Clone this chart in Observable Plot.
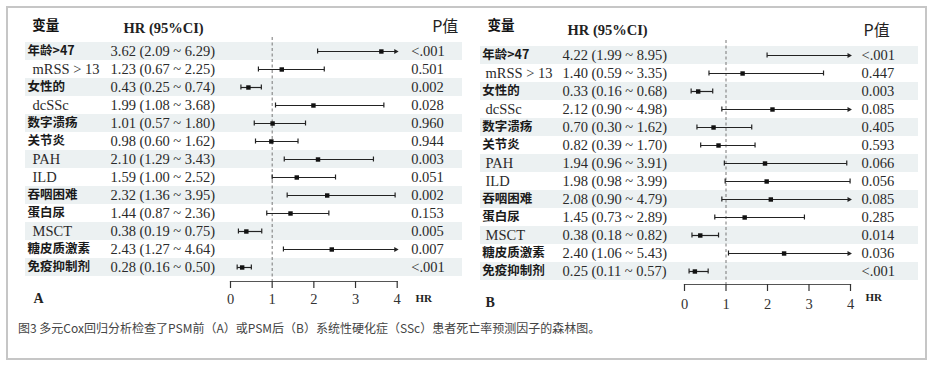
<!DOCTYPE html>
<html><head><meta charset="utf-8">
<script src="https://cdn.jsdelivr.net/npm/d3@7"></script>
<script src="https://cdn.jsdelivr.net/npm/@observablehq/plot@0.6"></script>
<style>
body{margin:0;background:#fff;}
#wrap{position:relative;width:934px;height:365px;overflow:hidden;background:#fff;}
#box{position:absolute;left:6px;top:6px;width:917px;height:350px;border:2px solid #c6c6c6;}
.panel{position:absolute;top:0;}
#caption{position:absolute;left:18px;top:320px;font-family:"Noto Sans CJK SC";font-size:12px;line-height:16px;color:#444;white-space:nowrap;}
</style></head><body>
<div id="wrap"><div id="box"></div><div id="pa" class="panel" style="left:0"></div><div id="pb" class="panel" style="left:467px"></div><div id="caption"></div></div>
<script>
// ---- data ----
const variables = ["年龄>47", "mRSS > 13", "女性的", "dcSSc", "数字溃疡", "关节炎", "PAH", "ILD", "吞咽困难", "蛋白尿", "MSCT", "糖皮质激素", "免疫抑制剂"];
const hrA = [3.62, 1.23, 0.43, 1.99, 1.01, 0.98, 2.10, 1.59, 2.32, 1.44, 0.38, 2.43, 0.28];
const loA = [2.09, 0.67, 0.25, 1.08, 0.57, 0.60, 1.29, 1.00, 1.36, 0.87, 0.19, 1.27, 0.16];
const hiA = [6.29, 2.25, 0.74, 3.68, 1.80, 1.62, 3.43, 2.52, 3.95, 2.36, 0.75, 4.64, 0.50];
const pA = ["<.001", "0.501", "0.002", "0.028", "0.960", "0.944", "0.003", "0.051", "0.002", "0.153", "0.005", "0.007", "<.001"];
const hrB = [4.22, 1.40, 0.33, 2.12, 0.70, 0.82, 1.94, 1.98, 2.08, 1.45, 0.38, 2.40, 0.25];
const loB = [1.99, 0.59, 0.16, 0.90, 0.30, 0.39, 0.96, 0.98, 0.90, 0.73, 0.18, 1.06, 0.11];
const hiB = [8.95, 3.35, 0.68, 4.98, 1.62, 1.70, 3.91, 3.99, 4.79, 2.89, 0.82, 5.43, 0.57];
const pB = ["<.001", "0.447", "0.003", "0.085", "0.405", "0.593", "0.066", "0.056", "0.085", "0.285", "0.014", "0.036", "<.001"];
const xTicks = [0, 1, 2, 3, 4];
const xMax = 4;
const headers = ["变量", "HR (95%CI)", "P值"];
const panelLetters = ["A", "B"];
const axisTitle = "HR";
const captionText = "图3 多元Cox回归分析检查了PSM前（A）或PSM后（B）系统性硬化症（SSc）患者死亡率预测因子的森林图。";

// ---- layout ----
const SERIF = "Liberation Serif, Times New Roman, serif";
const CJK = "Noto Sans CJK SC, sans-serif";
const W = 467, H = 320, MT = 20;
const layoutA = {mL: 230, mR: 70.3, rowTop: 46, rowBot: 271.5, axisY: 281, dashTop: 37, tickPad: 5.5,
  bandL: 25, bandR: 462, labCJK: 27, labLat: 32, hrX: 110, pX: 410.7,
  head: [[31.7, 25], [123, 27.7], [431.7, 26.7]], letter: [33, 298], hrLab: [415, 298]};
const layoutB = {mL: 217, mR: 84, rowTop: 50, rowBot: 275, axisY: 284, dashTop: 40, tickPad: 7.5,
  bandL: 13, bandR: 451, labCJK: 14.7, labLat: 18, hrX: 95, pX: 394,
  head: [[20, 25], [100, 30], [396, 30]], letter: [18, 301.7], hrLab: [398, 296.7]};

function panel(letter, hr, lo, hi, p, L) {
  const rows = variables.map((v, i) => ({v, hr: hr[i], lo: lo[i], hi: hi[i], p: p[i], odd: i % 2 === 0,
    cjk: /[\u4e00-\u9fff]/.test(v)}));
  const step = (L.rowBot - L.rowTop) / (variables.length - 1);
  const fmt = d3.format(".2f");
  const txt = (o) => ({frameAnchor: "left", textAnchor: "start", ...o});
  const at = (xy, o) => ({frameAnchor: "top-left", dx: xy[0] - L.mL, dy: xy[1] - MT, textAnchor: "start", lineAnchor: "middle", text: d => d, ...o});
  return Plot.plot({
    width: W, height: H,
    marginLeft: L.mL, marginRight: L.mR, marginTop: MT, marginBottom: H - L.axisY,
    x: {domain: [0, xMax], axis: null},
    y: {domain: variables, range: [L.rowTop - step / 2, L.rowBot + step / 2], padding: 0, axis: null},
    style: {background: "transparent", overflow: "visible"},
    marks: [
      Plot.cell(rows.filter(d => d.odd), {y: "v", fill: "#ecf1f2",
        insetLeft: L.bandL - L.mL, insetRight: (W - L.mR) - L.bandR}),
      Plot.ruleX([1], {stroke: "#777", strokeWidth: 1, strokeDasharray: "3,2.5", insetTop: L.dashTop - MT}),
      Plot.frame({anchor: "bottom", stroke: "#555", strokeWidth: 1.2}),
      Plot.axisX({ticks: xTicks, tickSize: 7, tickPadding: L.tickPad, fontSize: 14.5, fontFamily: SERIF,
        color: "#333", strokeWidth: 1.2, tickFormat: d3.format("d")}),
      Plot.link(rows, {x1: "lo", x2: d => Math.min(d.hi, xMax), y1: "v", y2: "v", stroke: "#222", strokeWidth: 1.2}),
      Plot.tickX(rows, {x: "lo", y: "v", stroke: "#222", strokeWidth: 1.2, insetTop: 6.5, insetBottom: 6.5}),
      Plot.tickX(rows.filter(d => d.hi <= xMax), {x: "hi", y: "v", stroke: "#222", strokeWidth: 1.2, insetTop: 6.5, insetBottom: 6.5}),
      Plot.dot(rows.filter(d => d.hi > xMax), {x: () => xMax, y: "v", symbol: "triangle", rotate: 90, r: 1.9, fill: "#222", dx: -1.5}),
      Plot.dot(rows.filter(d => d.hr <= xMax), {x: "hr", y: "v", symbol: "square", r: 2.5, fill: "#111"}),
      Plot.text(rows.filter(d => d.cjk), txt({y: "v", text: "v", dx: L.labCJK - L.mL, dy: -1, fontFamily: CJK, fontWeight: 700, fontSize: 12.5, fill: "#1a1a1a"})),
      Plot.text(rows.filter(d => !d.cjk), txt({y: "v", text: "v", dx: L.labLat - L.mL, fontFamily: SERIF, fontSize: 14.5, fill: "#2a2a2a"})),
      Plot.text(rows, txt({y: "v", text: d => `${fmt(d.hr)} (${fmt(d.lo)} ~ ${fmt(d.hi)})`, dx: L.hrX - L.mL, fontFamily: SERIF, fontSize: 14.5, fill: "#2a2a2a"})),
      Plot.text(rows, txt({y: "v", text: "p", dx: L.pX - L.mL, fontFamily: SERIF, fontSize: 14.5, fill: "#2a2a2a"})),
      Plot.text([headers[0]], at(L.head[0], {fontFamily: CJK, fontWeight: 700, fontSize: 13.5, fill: "#111"})),
      Plot.text([headers[1]], at(L.head[1], {fontFamily: SERIF, fontWeight: 700, fontSize: 14.5, fill: "#222"})),
      Plot.text([headers[2]], at(L.head[2], {fontFamily: CJK, fontSize: 16, fill: "#222"})),
      Plot.text([letter], at(L.letter, {fontFamily: SERIF, fontWeight: 700, fontSize: 14, fill: "#222"})),
      Plot.text([axisTitle], at(L.hrLab, {fontFamily: SERIF, fontWeight: 700, fontSize: 11, fill: "#222"}))
    ]
  });
}

document.getElementById("pa").append(panel(panelLetters[0], hrA, loA, hiA, pA, layoutA));
document.getElementById("pb").append(panel(panelLetters[1], hrB, loB, hiB, pB, layoutB));
document.getElementById("caption").textContent = captionText;
</script>
</body></html>
